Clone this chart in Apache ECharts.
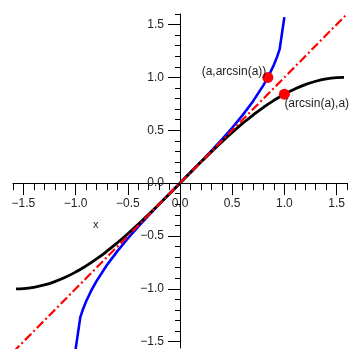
<!DOCTYPE html>
<html>
<head>
<meta charset="utf-8">
<script src="https://cdn.jsdelivr.net/npm/echarts@6/dist/echarts.min.js"></script>
<style>html,body{margin:0;padding:0;background:#fff}#c{width:351px;height:352px}</style>
</head>
<body>
<div id="c"></div>
<script>
// sin(x) curve
const sinX = [-1.571,-1.5,-1.4,-1.3,-1.2,-1.1,-1.0,-0.9,-0.8,-0.7,-0.6,-0.5,-0.4,-0.3,-0.2,-0.1,0,0.1,0.2,0.3,0.4,0.5,0.6,0.7,0.8,0.9,1.0,1.1,1.2,1.3,1.4,1.5,1.571];
const sinY = [-1.0,-0.9975,-0.9854,-0.9636,-0.932,-0.8912,-0.8415,-0.7833,-0.7174,-0.6442,-0.5646,-0.4794,-0.3894,-0.2955,-0.1987,-0.0998,0,0.0998,0.1987,0.2955,0.3894,0.4794,0.5646,0.6442,0.7174,0.7833,0.8415,0.8912,0.932,0.9636,0.9854,0.9975,1.0];
// arcsin(x) curve
const asinX = [-1,-0.955,-0.93,-0.9,-0.85,-0.8,-0.7,-0.6,-0.5,-0.4,-0.3,-0.2,-0.1,0,0.1,0.2,0.3,0.4,0.5,0.6,0.7,0.8,0.85,0.9,0.93,0.955,1];
const asinY = [-1.5708,-1.2681,-1.1944,-1.1198,-1.016,-0.9273,-0.7754,-0.6435,-0.5236,-0.4115,-0.3047,-0.2014,-0.1002,0,0.1002,0.2014,0.3047,0.4115,0.5236,0.6435,0.7754,0.9273,1.016,1.1198,1.1944,1.2681,1.5708];
// y = x line
const diagX = [-1.6, 1.6];
const diagY = [-1.6, 1.6];
// marked points
const pointNames = ['(a,arcsin(a))', '(arcsin(a),a)'];
const pointX = [0.8415, 1.0];
const pointY = [1.0, 0.8415];
// ticks
const majorTicks = [-1.5,-1.0,-0.5,0,0.5,1.0,1.5];
const minorTicksX = [-1.6,-1.5,-1.4,-1.3,-1.2,-1.1,-1.0,-0.9,-0.8,-0.7,-0.6,-0.5,-0.4,-0.3,-0.2,-0.1,0,0.1,0.2,0.3,0.4,0.5,0.6,0.7,0.8,0.9,1.0,1.1,1.2,1.3,1.4,1.5,1.6];
const minorTicksY = [-1.5,-1.4,-1.3,-1.2,-1.1,-1.0,-0.9,-0.8,-0.7,-0.6,-0.5,-0.4,-0.3,-0.2,-0.1,0,0.1,0.2,0.3,0.4,0.5,0.6,0.7,0.8,0.9,1.0,1.1,1.2,1.3,1.4,1.5,1.6];
const xName = 'x';

const FONT = '"Liberation Sans", Arial, Helvetica, sans-serif';
const fmt = v => (v < 0 ? '\u2212' : '') + Math.abs(v).toFixed(1);
const zip = (a, b) => a.map((v, i) => [v, b[i]]);

const X_MIN = -1.6, X_MAX = 1.6, Y_MIN = -1.56, Y_MAX = 1.6;
const G_LEFT = 13, G_TOP = 14, G_W = 334, G_H = 334;
// pixel position of the zero lines inside the grid (for the second, tick-only axes)
const zeroXpx = G_LEFT + G_W * (0 - X_MIN) / (X_MAX - X_MIN);
const zeroYpx = G_TOP + G_H * (Y_MAX - 0) / (Y_MAX - Y_MIN);
const xMajorOffset = -((G_TOP + G_H) - zeroYpx);
const yMajorOffset = -(zeroXpx - G_LEFT);

function xAxisDef(major) {
  return {
    type: 'value', min: X_MIN, max: X_MAX, position: 'bottom',
    offset: major ? xMajorOffset : 0,
    axisLine: major ? { show: false, onZero: false }
                    : { show: true, onZero: true, lineStyle: { color: '#000', width: 1 } },
    axisTick: major ? { show: true, length: 12, customValues: majorTicks, lineStyle: { color: '#000', width: 1 } }
                    : { show: true, length: 7, customValues: minorTicksX, lineStyle: { color: '#000', width: 1 } },
    axisLabel: major ? { show: true, customValues: majorTicks, formatter: fmt, margin: 15, color: '#222', fontSize: 12, fontFamily: FONT }
                     : { show: false },
    splitLine: { show: false }
  };
}
function yAxisDef(major) {
  return {
    type: 'value', min: Y_MIN, max: Y_MAX, position: 'left',
    offset: major ? yMajorOffset : 0,
    axisLine: major ? { show: false, onZero: false }
                    : { show: true, onZero: true, lineStyle: { color: '#000', width: 1 } },
    axisTick: major ? { show: true, length: 12, customValues: majorTicks, lineStyle: { color: '#000', width: 1 } }
                    : { show: true, length: 5, customValues: minorTicksY, lineStyle: { color: '#000', width: 1 } },
    axisLabel: major ? { show: true, customValues: majorTicks, formatter: fmt, margin: 16, color: '#222', fontSize: 12, fontFamily: FONT }
                     : { show: false },
    splitLine: { show: false }
  };
}

const chart = echarts.init(document.getElementById('c'), null, { renderer: 'canvas' });
chart.setOption({
  animation: false,
  backgroundColor: '#fff',
  grid: { left: G_LEFT, top: G_TOP, width: G_W, height: G_H, containLabel: false, outerBoundsMode: 'none' },
  xAxis: [xAxisDef(false), xAxisDef(true)],
  yAxis: [yAxisDef(false), yAxisDef(true)],
  series: [
    { type: 'line', xAxisIndex: 0, yAxisIndex: 0, data: zip(asinX, asinY), showSymbol: false, smooth: false,
      lineStyle: { color: '#0000ff', width: 2.6 }, z: 3 },
    { type: 'line', xAxisIndex: 0, yAxisIndex: 0, data: zip(sinX, sinY), showSymbol: false, smooth: true,
      lineStyle: { color: '#000', width: 2.8 }, z: 4 },
    { type: 'line', xAxisIndex: 0, yAxisIndex: 0, data: zip(diagX, diagY), showSymbol: false, clip: true,
      lineStyle: { color: '#ff0000', width: 2.2, type: [9, 3, 2, 3] }, z: 5 },
    { type: 'scatter', xAxisIndex: 0, yAxisIndex: 0, symbolSize: 11, z: 6,
      itemStyle: { color: '#ff0000', opacity: 1 },
      data: [
        { value: [pointX[0], pointY[0]], name: pointNames[0],
          label: { show: true, position: 'left', distance: -4, offset: [0, -6], formatter: '{b}', color: '#222', fontSize: 12, fontFamily: FONT } },
        { value: [pointX[1], pointY[1]], name: pointNames[1],
          label: { show: true, position: 'right', distance: -5.5, offset: [0, 10], formatter: '{b}', color: '#222', fontSize: 12, fontFamily: FONT } }
      ] }
  ],
  graphic: [
    { type: 'text', left: 93, top: 219, style: { text: xName, fill: '#222', font: '11px ' + FONT } }
  ]
});
</script>
</body>
</html>
